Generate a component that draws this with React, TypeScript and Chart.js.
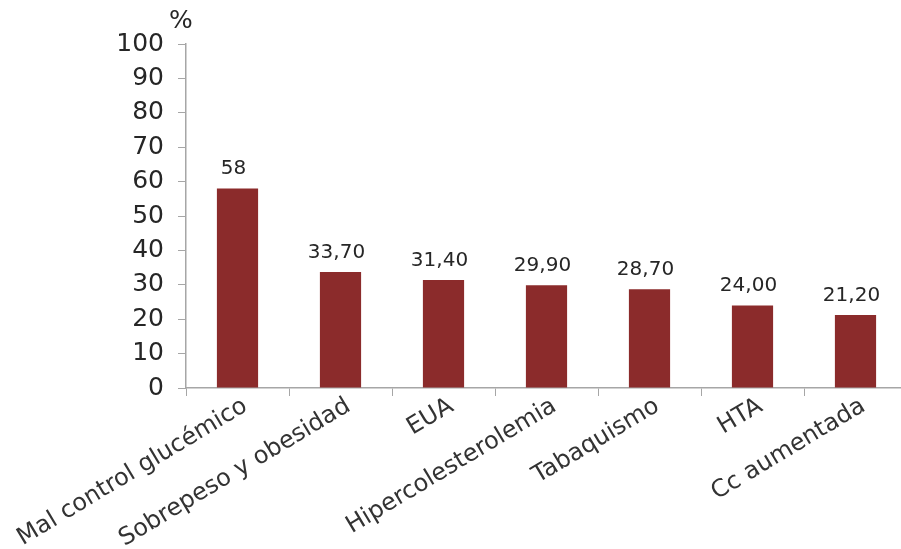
import React, { useEffect, useRef } from "react";
import { Chart, registerables } from "chart.js";

Chart.register(...registerables);

// Risk factors (categories) and their prevalence in %
const categories = [
  "Mal control glucémico",
  "Sobrepeso y obesidad",
  "EUA",
  "Hipercolesterolemia",
  "Tabaquismo",
  "HTA",
  "Cc aumentada",
];
const values = [58, 33.7, 31.4, 29.9, 28.7, 24.0, 21.2];
// Decimal places shown in each value label
const decimals = [0, 2, 2, 2, 2, 2, 2];
const yTicks = [0, 10, 20, 30, 40, 50, 60, 70, 80, 90, 100];
const unitLabel = "%";

const BAR_COLOR = "#8b2b2b";
const AXIS_COLOR = "#a6a6a6";
const TEXT_COLOR = "#262626";

const formatValue = (v: number, d: number) => v.toFixed(d).replace(".", ",");

const valueLabels = {
  id: "valueLabels",
  afterDatasetsDraw(chart: any) {
    const { ctx } = chart;
    const meta = chart.getDatasetMeta(0);
    ctx.save();
    ctx.font = "20px 'DejaVu Sans'";
    ctx.fillStyle = TEXT_COLOR;
    ctx.textAlign = "center";
    ctx.textBaseline = "alphabetic";
    meta.data.forEach((bar: any, i: number) => {
      ctx.fillText(formatValue(values[i], decimals[i]), bar.x - 4, bar.y - 14);
    });
    ctx.restore();
  },
};

const unitTitle = {
  id: "unitTitle",
  afterDraw(chart: any) {
    const { ctx, chartArea } = chart;
    ctx.save();
    ctx.font = "25px 'DejaVu Sans'";
    ctx.fillStyle = TEXT_COLOR;
    ctx.textAlign = "center";
    ctx.textBaseline = "middle";
    ctx.fillText(unitLabel, chartArea.left - 5, chartArea.top - 23);
    ctx.restore();
  },
};

export default function App() {
  const canvasRef = useRef<HTMLCanvasElement>(null);

  useEffect(() => {
    document.body.style.margin = "0";
    const canvas = canvasRef.current;
    if (!canvas) return;
    const chart = new Chart(canvas, {
      type: "bar",
      data: {
        labels: categories,
        datasets: [
          {
            data: values,
            backgroundColor: BAR_COLOR,
            borderWidth: 0,
            barPercentage: 0.4,
            categoryPercentage: 1,
          },
        ],
      },
      options: {
        animation: false,
        responsive: false,
        maintainAspectRatio: false,
        layout: { padding: { top: 44, left: 0, right: 0, bottom: 0 } },
        plugins: {
          legend: { display: false },
          tooltip: { enabled: false },
        },
        scales: {
          x: {
            offset: true,
            border: { display: true, color: AXIS_COLOR, width: 1.5 },
            grid: {
              display: true,
              offset: true,
              drawOnChartArea: false,
              drawTicks: true,
              tickLength: 8,
              color: AXIS_COLOR,
            },
            ticks: {
              autoSkip: false,
              minRotation: 31,
              maxRotation: 31,
              padding: -4,
              labelOffset: 8,
              color: "#333333",
              font: { family: "'DejaVu Sans'", size: 24 },
            },
            afterFit(scale: any) {
              scale.height = 161;
              scale.paddingLeft = 0;
              scale.paddingRight = 0;
            },
          },
          y: {
            min: 0,
            max: 100,
            afterBuildTicks(scale: any) {
              scale.ticks = yTicks.map((v) => ({ value: v }));
            },
            border: { display: true, color: AXIS_COLOR, width: 1.5 },
            grid: {
              display: true,
              drawOnChartArea: false,
              drawTicks: true,
              tickLength: 8,
              color: AXIS_COLOR,
            },
            ticks: {
              padding: 14,
              color: TEXT_COLOR,
              font: { family: "'DejaVu Sans'", size: 25 },
            },
            afterFit(scale: any) {
              scale.width = 186;
            },
          },
        },
      },
      plugins: [valueLabels, unitTitle],
    });
    return () => chart.destroy();
  }, []);

  // The plot runs slightly past the right edge of the visible frame
  return (
    <div style={{ width: 901, height: 549, overflow: "hidden" }}>
      <canvas ref={canvasRef} width={907} height={549} style={{ display: "block" }} />
    </div>
  );
}
